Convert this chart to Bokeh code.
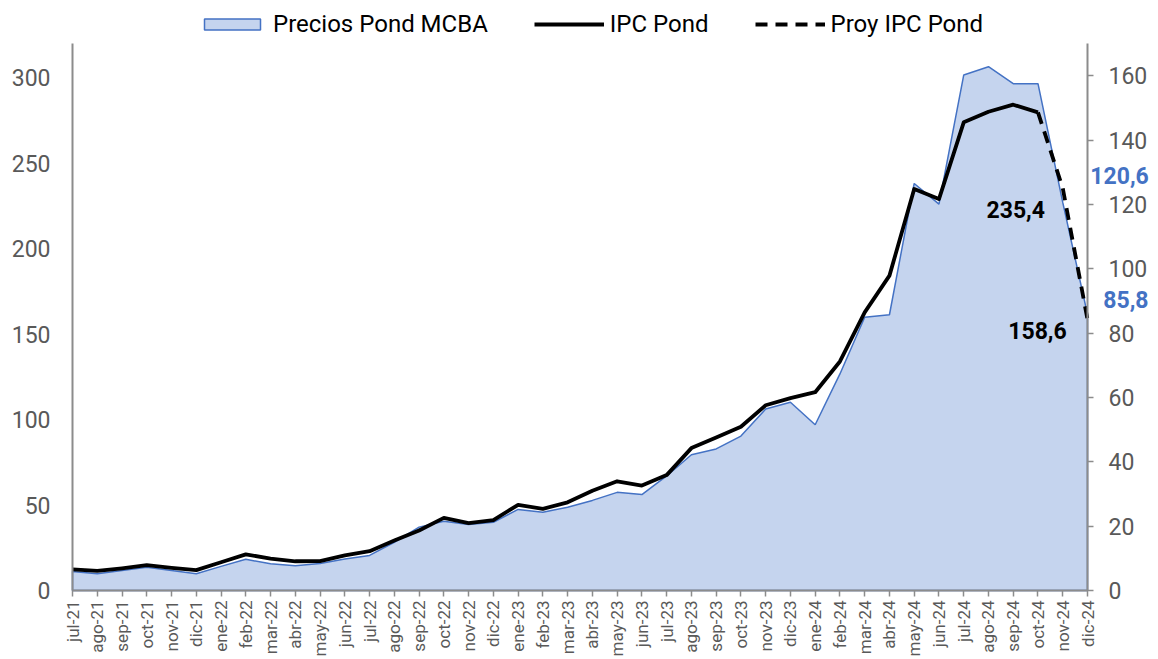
import numpy as np
from bokeh.plotting import figure
from bokeh.models import Range1d, LinearAxis, FixedTicker, Legend, LegendItem, Label
from bokeh.embed import file_html
from bokeh.resources import INLINE

months = ["jul-21", "ago-21", "sep-21", "oct-21", "nov-21", "dic-21",
          "ene-22", "feb-22", "mar-22", "abr-22", "may-22", "jun-22",
          "jul-22", "ago-22", "sep-22", "oct-22", "nov-22", "dic-22",
          "ene-23", "feb-23", "mar-23", "abr-23", "may-23", "jun-23",
          "jul-23", "ago-23", "sep-23", "oct-23", "nov-23", "dic-23",
          "ene-24", "feb-24", "mar-24", "abr-24", "may-24", "jun-24",
          "jul-24", "ago-24", "sep-24", "oct-24", "nov-24", "dic-24"]

# Precios Pond MCBA (right axis)
mcba = [5.9, 5.2, 6.2, 7.2, 6.2, 5.2, 7.5, 9.7, 8.3, 7.7, 8.4, 9.8,
        10.9, 15.0, 19.7, 21.5, 20.5, 21.2, 25.2, 24.3, 25.9, 28.0, 30.5, 29.8,
        35.6, 42.2, 44.0, 48.0, 56.4, 58.5, 51.5, 67.3, 84.9, 85.7, 126.5, 120.1,
        160.2, 162.8, 157.5, 157.5, 120.6, 85.8]

# IPC Pond (left axis), jul-21 .. oct-24
ipc = [12.3, 11.5, 13.0, 14.8, 13.3, 11.9, 16.5, 21.1, 18.7, 17.1, 17.2, 20.5,
       23.0, 29.2, 35.1, 42.5, 39.4, 41.2, 50.1, 47.8, 51.6, 58.3, 63.9, 61.4,
       67.5, 83.3, 89.5, 95.8, 108.4, 112.5, 116.0, 134.0, 162.7, 184.2, 234.9, 229.0,
       273.9, 280.1, 284.2, 279.7]

# Proy IPC Pond (left axis), oct-24 .. dic-24
proy_months = ["oct-24", "nov-24", "dic-24"]
proy = [279.7, 235.4, 158.6]

left_ticks = [0, 50, 100, 150, 200, 250, 300]
right_ticks = [0, 20, 40, 60, 80, 100, 120, 140, 160]
LEFT_MAX, RIGHT_MAX = 320, 170

x_all = list(range(len(months)))
x_ipc = x_all[:len(ipc)]
x_proy = [months.index(m) for m in proy_months]
last = len(months) - 1

FONT = "Roboto"
GRAY = "#595959"
AXIS = "#8c8c8c"
BLUE = "#4472C4"
FILL = "#C5D4EE"

W, H = 1158, 659
AXIS_LEFT, AXIS_RIGHT = 72, 1087   # pixel columns of first / last category
AXIS_BOTTOM, AXIS_TOP = 590, 43    # pixel rows of value 0 / axis maximum
axis_h = AXIS_BOTTOM - AXIS_TOP
px_per_idx = (AXIS_RIGHT - AXIS_LEFT) / last


def vrange(vmax):
    k = axis_h / vmax
    return Range1d(-(H - AXIS_BOTTOM) / k, AXIS_BOTTOM / k)


p = figure(width=W, height=H, output_backend="svg", toolbar_location=None,
           x_range=Range1d(-AXIS_LEFT / px_per_idx, (W - AXIS_LEFT) / px_per_idx),
           y_range=vrange(LEFT_MAX),
           min_border_left=0, min_border_right=0, min_border_top=0, min_border_bottom=0)
p.extra_y_ranges = {"right": vrange(RIGHT_MAX)}
p.outline_line_color = None
p.xgrid.visible = False
p.ygrid.visible = False
p.background_fill_color = "white"
p.border_fill_color = "white"

# area (patch so the legend shows fill + outline)
px = x_all + [x_all[-1], x_all[0]]
py = mcba + [0, 0]
area_r = p.patch(px, py, fill_color=FILL, line_color=BLUE, line_width=1.5, y_range_name="right")
ipc_r = p.line(x_ipc, ipc, line_color="black", line_width=3.8, line_join="round")
proy_r = p.line(x_proy, proy, line_color="black", line_width=3.8, line_dash="12 8")

# x axis, fixed at value 0
xa = p.xaxis[0]
xa.fixed_location = 0
xa.bounds = (0, last)
xa.ticker = FixedTicker(ticks=x_all)
xa.major_label_overrides = {i: m for i, m in enumerate(months)}
xa.major_label_orientation = np.pi / 2
xa.major_label_text_font = FONT
xa.major_label_text_font_size = "17px"
xa.major_label_text_color = GRAY
xa.axis_line_color = AXIS
xa.axis_line_width = 2
xa.major_tick_line_color = AXIS
xa.major_tick_line_width = 1.5
xa.major_tick_in = 0
xa.major_tick_out = 6
xa.minor_tick_line_color = None
xa.major_label_standoff = 4

# left axis, fixed at the first category
ya = p.yaxis[0]
ya.fixed_location = 0
ya.bounds = (0, LEFT_MAX)
ya.ticker = FixedTicker(ticks=left_ticks)
ya.major_label_text_font = FONT
ya.major_label_text_font_size = "23px"
ya.major_label_text_color = GRAY
ya.axis_line_color = AXIS
ya.axis_line_width = 2
ya.major_tick_line_color = None
ya.major_tick_in = 0
ya.major_tick_out = 0
ya.minor_tick_line_color = None
ya.major_label_standoff = 22

# right axis, fixed at the last category
ra = LinearAxis(y_range_name="right", ticker=FixedTicker(ticks=right_ticks),
                fixed_location=last, bounds=(0, RIGHT_MAX))
ra.major_label_text_font = FONT
ra.major_label_text_font_size = "23px"
ra.major_label_text_color = GRAY
ra.axis_line_color = AXIS
ra.axis_line_width = 2
ra.major_tick_line_color = AXIS
ra.major_tick_line_width = 1.5
ra.major_tick_in = 0
ra.major_tick_out = 6
ra.minor_tick_line_color = None
ra.major_label_standoff = 15
p.add_layout(ra, "right")

# legend
legend = Legend(items=[LegendItem(label="Precios Pond MCBA", renderers=[area_r]),
                       LegendItem(label="IPC Pond", renderers=[ipc_r]),
                       LegendItem(label="Proy IPC Pond", renderers=[proy_r])],
                orientation="horizontal", location=(197, H - 38),
                label_text_font=FONT, label_text_font_size="24px", label_text_color="black",
                glyph_width=70, glyph_height=14, label_standoff=6, spacing=46,
                padding=0, margin=0, border_line_color=None, background_fill_alpha=0)
p.add_layout(legend, "center")


def fmt(v):
    return f"{v:.1f}".replace(".", ",")


labels = [
    Label(x=x_proy[1], y=proy[1], text=fmt(proy[1]), x_offset=-47, y_offset=-21,
          text_align="center", text_baseline="middle", text_color="black"),
    Label(x=x_proy[2], y=proy[2], text=fmt(proy[2]), x_offset=-50, y_offset=-11,
          text_align="center", text_baseline="middle", text_color="black"),
    Label(x=last - 1, y=mcba[-2], text=fmt(mcba[-2]), x_offset=86, y_offset=27,
          text_align="right", text_baseline="middle", text_color=BLUE, y_range_name="right"),
    Label(x=last, y=mcba[-1], text=fmt(mcba[-1]), x_offset=61, y_offset=15,
          text_align="right", text_baseline="middle", text_color=BLUE, y_range_name="right"),
]
for lb in labels:
    lb.text_font = FONT
    lb.text_font_size = "23px"
    lb.text_font_style = "bold"
    p.add_layout(lb)

open("out.html", "w").write(file_html(p, INLINE))
